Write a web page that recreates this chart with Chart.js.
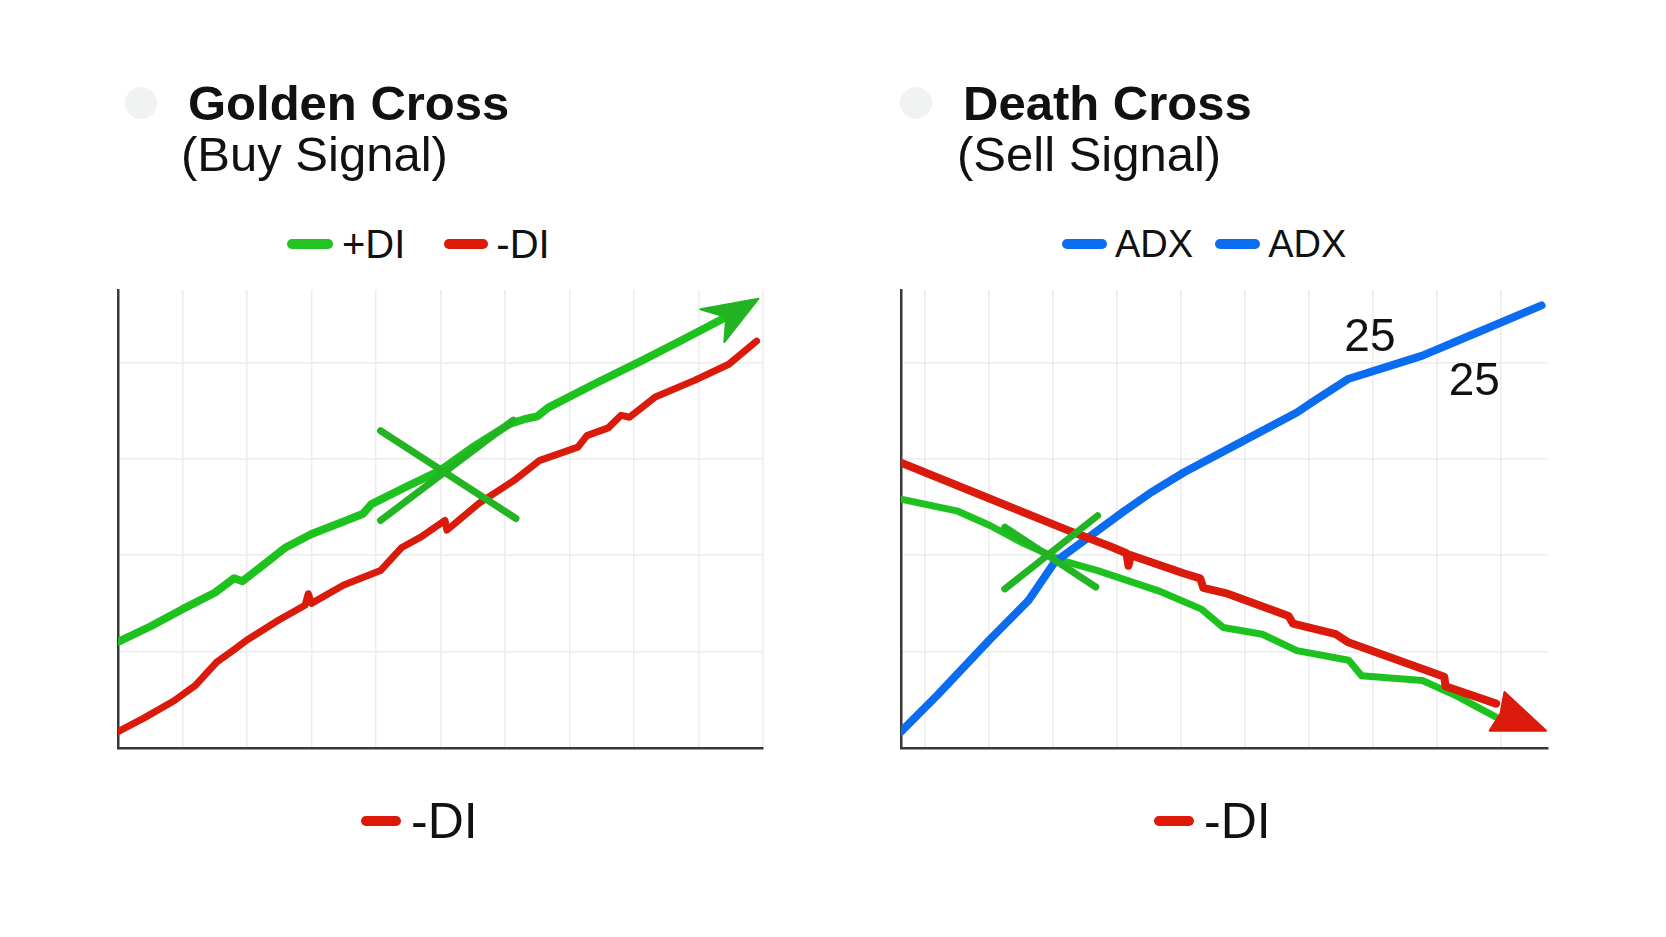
<!DOCTYPE html>
<html lang="en">
<head>
  <meta charset="UTF-8">
  <title>Golden Cross / Death Cross</title>
  <script src="https://cdn.jsdelivr.net/npm/chart.js"></script>
  <style>
    body {
      margin: 0;
      background: #fff;
      font-family: "Liberation Sans", Arial, Helvetica, sans-serif;
      color: #111;
    }
    .page {
      position: relative;
      width: 1666px;
      height: 937px;
      overflow: hidden;
    }
    .dot {
      position: absolute;
      width: 32px;
      height: 32px;
      border-radius: 50%;
      background: #f1f2f2;
    }
    .title {
      position: absolute;
      font-size: 49px;
      line-height: 49px;
      font-weight: bold;
      white-space: nowrap;
    }
    .subtitle {
      position: absolute;
      font-size: 49px;
      line-height: 49px;
      white-space: nowrap;
    }
    .legend {
      position: absolute;
      display: flex;
      align-items: center;
      white-space: nowrap;
    }
    .legend .swatch {
      display: inline-block;
      height: 10px;
      border-radius: 5px;
    }
    .chart-box {
      position: absolute;
    }
  </style>
</head>
<body>
<div class="page">

  <!-- left panel -->
  <div class="dot" style="left:125px; top:87px;"></div>
  <div class="title" style="left:188px; top:79px;">Golden Cross</div>
  <div class="subtitle" style="left:181px; top:130px;">(Buy Signal)</div>
  <div class="legend" style="left:287px; top:224px; font-size:40px; line-height:40px;">
    <span class="swatch" style="width:46px; background:#22c322; margin-right:9px;"></span>+DI
    <span class="swatch" style="width:44px; background:#dd1a0a; margin:0 8px 0 39px;"></span>-DI
  </div>
  <div class="chart-box" style="left:108px; top:280px; width:665px; height:478px;">
    <canvas id="goldenChart"></canvas>
  </div>
  <div class="legend" style="left:361px; top:796px; font-size:50px; line-height:50px;">
    <span class="swatch" style="width:40px; background:#dd1a0a; margin-right:10px;"></span>-DI
  </div>

  <!-- right panel -->
  <div class="dot" style="left:900px; top:87px;"></div>
  <div class="title" style="left:963px; top:79px;">Death Cross</div>
  <div class="subtitle" style="left:957px; top:130px;">(Sell Signal)</div>
  <div class="legend" style="left:1062px; top:225px; font-size:38px; line-height:38px;">
    <span class="swatch" style="width:45px; background:#0a6cf0; margin-right:8px;"></span>ADX
    <span class="swatch" style="width:45px; background:#0a6cf0; margin:0 8px 0 22px;"></span>ADX
  </div>
  <div class="chart-box" style="left:891px; top:280px; width:667px; height:478px;">
    <canvas id="deathChart"></canvas>
  </div>
  <div class="legend" style="left:1154px; top:796px; font-size:50px; line-height:50px;">
    <span class="swatch" style="width:40px; background:#dd1a0a; margin-right:10px;"></span>-DI
  </div>

</div>

<script>
  // ---- Golden Cross (left) : [period, value] ----
  const goldenPlusDI = [
    [0, 11.0], [0.5, 12.6], [1.0, 14.4], [1.5, 16.1], [1.8, 17.6], [1.93, 17.3],
    [2.2, 18.7], [2.6, 20.8], [3.0, 22.2], [3.5, 23.5], [3.8, 24.3], [3.93, 25.3],
    [4.5, 27.2], [5.0, 28.8], [5.5, 31.2], [6.07, 33.6], [6.3, 34.1], [6.5, 34.4],
    [6.67, 35.3], [7.4, 37.8], [8.13, 40.2], [8.8, 42.5], [9.43, 44.7]
  ];
  const goldenMinusDI = [
    [0, 1.7], [0.4, 3.1], [0.87, 4.9], [1.2, 6.5], [1.53, 8.9], [1.8, 10.2],
    [2.0, 11.2], [2.5, 13.3], [2.9, 14.8], [2.95, 16.0], [3.0, 15.0], [3.5, 16.9],
    [4.07, 18.4], [4.4, 20.8], [4.7, 21.9], [5.07, 23.6], [5.1, 22.6], [5.6, 25.4],
    [6.13, 27.7], [6.53, 29.8], [7.13, 31.2], [7.27, 32.4], [7.6, 33.2], [7.8, 34.5],
    [7.93, 34.3], [8.33, 36.4], [8.93, 38.1], [9.47, 39.8], [9.9, 42.2]
  ];
  const goldenArrow = [[9.93, 46.6], [9.03, 45.5], [9.43, 44.7], [9.4, 42.1], [9.93, 46.6]];
  const goldenCrossA = [[4.07, 32.9], [6.17, 23.8]];
  const goldenCrossB = [[4.07, 23.6], [6.13, 34.0]];

  // ---- Death Cross (right) ----
  const deathADX = [
    [-0.37, 1.7], [0.2, 5.5], [1.01, 11.2], [1.62, 15.3], [2.03, 19.3], [2.57, 21.9],
    [3.1, 24.5], [3.51, 26.4], [4.05, 28.6], [4.93, 31.7], [5.81, 34.8], [6.08, 36.0],
    [6.62, 38.3], [7.2, 39.5], [7.77, 40.7], [8.7, 43.3], [9.63, 45.9]
  ];
  const deathMinusDI = [
    [-0.37, 29.6], [1.0, 25.9], [2.23, 22.6], [2.9, 20.9], [3.15, 20.2], [3.18, 18.9],
    [3.22, 20.0], [4.05, 18.1], [4.3, 17.6], [4.35, 16.6], [4.73, 16.0], [5.68, 13.7],
    [5.75, 12.9], [6.42, 11.8], [6.6, 11.0], [8.11, 7.4], [8.13, 6.4], [8.92, 4.6]
  ];
  const deathPlusDI = [
    [-0.37, 25.8], [0.5, 24.6], [1.01, 23.1], [1.55, 21.2], [2.16, 19.4], [2.7, 18.4],
    [3.65, 16.3], [4.32, 14.4], [4.66, 12.5], [5.27, 11.8], [5.81, 10.1], [6.62, 9.1],
    [6.82, 7.5], [7.77, 7.0], [8.3, 5.4], [8.92, 3.2]
  ];
  const deathArrow = [[9.7, 1.8], [9.05, 5.8], [8.99, 3.6], [8.82, 1.8], [9.7, 1.8]];
  const deathCrossA = [[1.25, 16.5], [2.7, 24.1]];
  const deathCrossB = [[1.25, 22.9], [2.67, 16.7]];
  const deathNotes = [
    { text: '25', x: 6.95, y: 42.5 },
    { text: '25', x: 8.58, y: 37.9 }
  ];

  const GREEN = '#1ec21e';
  const XGREEN = '#22b422';
  const RED = '#da1a0b';
  const BLUE = '#0b6cf0';

  const pts = arr => arr.map(p => ({ x: p[0], y: p[1] }));

  function line(data, color, width) {
    return { data: pts(data), borderColor: color, borderWidth: width, fill: false };
  }
  function arrow(data, color) {
    return { data: pts(data), borderColor: color, backgroundColor: color, borderWidth: 2, fill: 'shape' };
  }

  // draws the free text labels ("25") at data positions
  const textMarks = {
    id: 'textMarks',
    afterDatasetsDraw(chart, args, opts) {
      const items = opts.items || [];
      const { ctx, scales } = chart;
      ctx.save();
      ctx.font = '46px "Liberation Sans", Arial, sans-serif';
      ctx.fillStyle = '#111';
      ctx.textAlign = 'center';
      ctx.textBaseline = 'middle';
      items.forEach(m => {
        ctx.fillText(m.text, scales.x.getPixelForValue(m.x), scales.y.getPixelForValue(m.y));
      });
      ctx.restore();
    }
  };

  function makeChart(id, datasets, xMin, xMax, notes) {
    const grid = { color: '#ececec', lineWidth: 1.5, drawTicks: false };
    const border = { color: '#383838', width: 2.5 };
    return new Chart(document.getElementById(id), {
      type: 'line',
      data: { datasets: datasets },
      options: {
        responsive: true,
        maintainAspectRatio: false,
        animation: false,
        layout: { padding: 10 },
        elements: {
          point: { radius: 0, hoverRadius: 0 },
          line: { tension: 0, borderCapStyle: 'round', borderJoinStyle: 'round' }
        },
        plugins: {
          legend: { display: false },
          tooltip: { enabled: false },
          textMarks: { items: notes }
        },
        scales: {
          x: {
            type: 'linear', min: xMin, max: xMax,
            ticks: { display: false, stepSize: 1, includeBounds: false },
            grid: grid, border: border
          },
          y: {
            type: 'linear', min: 0, max: 47.5,
            ticks: { display: false, stepSize: 10, includeBounds: false },
            grid: grid, border: border
          }
        }
      },
      plugins: [textMarks]
    });
  }

  // first dataset is drawn on top
  makeChart('goldenChart', [
    line(goldenCrossA, XGREEN, 7),
    line(goldenCrossB, XGREEN, 7),
    arrow(goldenArrow, XGREEN),
    line(goldenPlusDI, GREEN, 8),
    line(goldenMinusDI, RED, 7)
  ], 0, 10, []);

  makeChart('deathChart', [
    line(deathCrossA, XGREEN, 7),
    line(deathCrossB, XGREEN, 7),
    arrow(deathArrow, RED),
    line(deathMinusDI, RED, 8),
    line(deathADX, BLUE, 8),
    line(deathPlusDI, GREEN, 7)
  ], -0.37, 9.73, deathNotes);
</script>
</body>
</html>
